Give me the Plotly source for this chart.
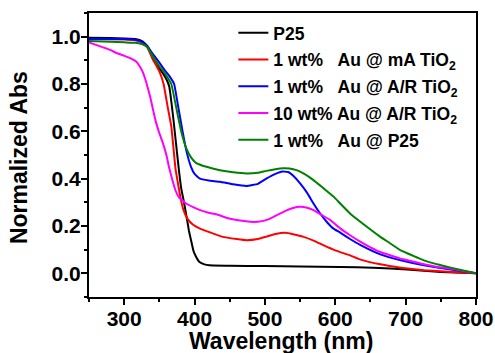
import plotly.graph_objects as go

series_names = [
    "P25",
    "1 wt%\u00a0\u00a0\u00a0Au @ mA TiO<sub>2</sub>",
    "1 wt%\u00a0\u00a0\u00a0Au @ A/R TiO<sub>2</sub>",
    "10 wt% Au @ A/R TiO<sub>2</sub>",
    "1 wt%\u00a0\u00a0\u00a0Au @ P25",
]
colors = ["#000000", "#FF0000", "#0000FF", "#FF00FF", "#008000"]

p25_wl = [250, 280, 300, 316, 326, 333, 340, 350, 355, 360, 364, 366, 370, 374, 378, 381, 385, 388, 392, 395, 398, 400, 404, 407, 414, 421, 450, 500, 550, 607, 654, 702, 750, 800]
p25_abs = [0.995, 0.994, 0.992, 0.99, 0.98, 0.96, 0.915, 0.865, 0.845, 0.82, 0.79, 0.75, 0.65, 0.54, 0.43, 0.36, 0.30, 0.25, 0.18, 0.14, 0.10, 0.083, 0.06, 0.048, 0.038, 0.034, 0.032, 0.031, 0.029, 0.027, 0.024, 0.016, 0.006, 0.0]

ma_wl = [250, 300, 316, 326, 333, 340, 350, 356, 362, 367, 370, 373, 377, 380, 384, 390, 398, 407, 420, 440, 460, 474, 490, 502, 515, 529, 540, 555, 570, 583, 600, 621, 636, 664, 693, 726, 764, 800]
ma_abs = [0.99, 0.988, 0.985, 0.975, 0.955, 0.908, 0.853, 0.80, 0.70, 0.62, 0.53, 0.44, 0.37, 0.32, 0.27, 0.23, 0.205, 0.19, 0.175, 0.154, 0.145, 0.14, 0.145, 0.155, 0.166, 0.171, 0.165, 0.154, 0.137, 0.119, 0.097, 0.076, 0.058, 0.038, 0.024, 0.013, 0.006, 0.0]

ar_wl = [250, 300, 316, 326, 333, 340, 350, 358, 365, 371, 377, 383, 389, 395, 400, 407, 420, 436, 455, 474, 490, 502, 515, 525, 533, 541, 550, 560, 569, 578, 588, 597, 607, 621, 636, 664, 693, 726, 764, 800]
ar_abs = [0.99, 0.99, 0.987, 0.978, 0.96, 0.93, 0.89, 0.857, 0.83, 0.80, 0.70, 0.60, 0.51, 0.45, 0.42, 0.401, 0.392, 0.387, 0.376, 0.369, 0.378, 0.40, 0.42, 0.43, 0.428, 0.41, 0.38, 0.34, 0.295, 0.255, 0.217, 0.19, 0.172, 0.145, 0.119, 0.08, 0.055, 0.034, 0.016, 0.0]

ar10_wl = [250, 265, 279, 290, 302, 310, 317, 322, 326, 330, 333, 337, 340, 345, 350, 355, 360, 364, 368, 373, 378, 388, 398, 407, 420, 431, 445, 460, 479, 490, 505, 517, 530, 540, 550, 560, 569, 580, 593, 607, 621, 636, 650, 664, 680, 693, 710, 726, 745, 764, 780, 800]
ar10_abs = [0.976, 0.96, 0.945, 0.93, 0.917, 0.907, 0.895, 0.875, 0.853, 0.82, 0.789, 0.745, 0.705, 0.64, 0.592, 0.55, 0.50, 0.445, 0.40, 0.35, 0.32, 0.295, 0.28, 0.268, 0.256, 0.25, 0.235, 0.225, 0.218, 0.218, 0.228, 0.246, 0.265, 0.276, 0.281, 0.277, 0.267, 0.248, 0.225, 0.19, 0.161, 0.133, 0.11, 0.09, 0.074, 0.062, 0.05, 0.038, 0.027, 0.02, 0.011, 0.0]

aup25_wl = [250, 300, 316, 326, 333, 340, 350, 355, 361, 367, 374, 381, 388, 395, 402, 417, 436, 455, 474, 490, 502, 515, 526, 535, 545, 556, 569, 583, 598, 607, 621, 636, 650, 664, 680, 693, 710, 726, 745, 764, 780, 800]
aup25_abs = [0.982, 0.976, 0.974, 0.968, 0.955, 0.92, 0.875, 0.857, 0.83, 0.80, 0.70, 0.60, 0.53, 0.49, 0.467, 0.45, 0.436, 0.427, 0.422, 0.425, 0.433, 0.44, 0.444, 0.443, 0.436, 0.42, 0.394, 0.36, 0.323, 0.295, 0.253, 0.217, 0.185, 0.154, 0.123, 0.097, 0.075, 0.055, 0.038, 0.024, 0.013, 0.0]

x_ticks = [300, 400, 500, 600, 700, 800]
y_ticks = [0.0, 0.2, 0.4, 0.6, 0.8, 1.0]
y_tick_labels = ["0.0", "0.2", "0.4", "0.6", "0.8", "1.0"]
x_title = "Wavelength (nm)"
y_title = "Normalized Abs"

data = [
    (p25_wl, p25_abs),
    (ma_wl, ma_abs),
    (ar_wl, ar_abs),
    (ar10_wl, ar10_abs),
    (aup25_wl, aup25_abs),
]

fig = go.Figure()
for i, ((wl, ab), name, c) in enumerate(zip(data, series_names, colors)):
    fig.add_trace(go.Scatter(x=wl, y=ab, mode="lines", name=name, legendgroup=f"g{i}",
                             line=dict(color=c, width=2, shape="spline", smoothing=0.3)))

FONT = "Liberation Sans, Arial, sans-serif"
axis_common = dict(
    showline=True, linecolor="black", linewidth=2, mirror=True,
    ticks="outside", ticklen=6, tickwidth=2, tickcolor="black",
    showgrid=False, zeroline=False, automargin=False,
    tickfont=dict(family=FONT, size=21, color="black", weight="bold"),
    ticklabelstandoff=-4,
)
fig.update_xaxes(range=[250, 800], tickvals=x_ticks,
                 minor=dict(ticks="outside", ticklen=3, tickwidth=2, tickcolor="black", dtick=50, tick0=250),
                 **axis_common)
fig.update_yaxes(range=[-0.1, 1.1], tickvals=y_ticks, ticktext=y_tick_labels,
                 minor=dict(ticks="outside", ticklen=3, tickwidth=2, tickcolor="black", dtick=0.1, tick0=0),
                 **axis_common)

title_font = dict(family=FONT, size=23, color="black", weight="bold")
fig.add_annotation(text=y_title, xref="paper", yref="paper", x=0, y=0.489,
                   xanchor="center", yanchor="middle", xshift=-70, textangle=-90,
                   showarrow=False, font=title_font)
fig.add_annotation(text=x_title, xref="paper", yref="paper", x=0.497, y=0,
                   xanchor="center", yanchor="middle", yshift=-44,
                   showarrow=False, font=title_font)

fig.update_layout(
    width=495, height=353,
    margin=dict(l=89, r=19, t=13, b=56),
    paper_bgcolor="white", plot_bgcolor="white",
    showlegend=True,
    legend=dict(x=0.373, y=0.993, xanchor="left", yanchor="top",
                bgcolor="rgba(0,0,0,0)", borderwidth=0, itemwidth=30,
                font=dict(family=FONT, size=17.5, color="black", weight="bold"),
                tracegroupgap=1),
)

fig.write_html("out.html", config={"displayModeBar": False},
               post_script="document.body.style.margin='0';document.body.style.overflow='hidden';")
